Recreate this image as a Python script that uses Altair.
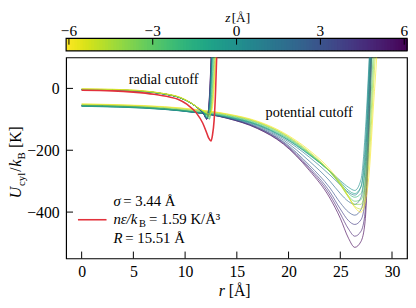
import altair as alt
import pandas as pd
import numpy as np

FONT = "Liberation Serif"

# ---------------- data ----------------
Z_VALUES = [-6, -5, -4, -3, -2, -1, 0, 1, 2, 3, 4, 5, 6]

# potential-cutoff family
R_POT = [0, 4, 8, 11, 14, 17, 19.5, 22, 24, 25, 25.8, 26.4, 27.0, 27.4, 27.8, 28.2, 28.6, 29.2]
POT_ZM6 = [-50, -53, -59, -68, -82, -106, -143, -200, -262, -305, -350, -385, -400, -370, -270, -60, 150, 700]
POT_ZM5 = [-51, -54, -60, -69, -83, -108, -146, -205, -268, -310, -352, -382, -390, -350, -225, 0, 250, 800]
POT_ZM4 = [-52, -55, -62, -71, -85, -110, -148, -208, -270, -312, -352, -375, -375, -325, -180, 60, 350, 900]
POT_ZM3 = [-54, -57, -64, -73, -87, -112, -151, -210, -270, -310, -348, -365, -360, -300, -130, 130, 450, 1000]
POT_ZM2 = [-56, -59, -66, -75, -89, -115, -154, -212, -270, -306, -340, -352, -340, -260, -60, 230, 600, 1200]
POT_ZM1 = [-57, -60, -67, -77, -91, -117, -157, -214, -269, -302, -330, -340, -318, -220, 20, 330, 700, 1300]
POT_Z0 = [-58, -61, -68, -78, -92, -118, -158, -215, -268, -298, -320, -330, -295, -150, 100, 400, 800, 1500]
POT_ZP1 = [-58, -61, -68, -78, -93, -120, -162, -222, -280, -312, -336, -345, -318, -190, 80, 400, 800, 1500]
POT_ZP2 = [-57, -60, -67, -78, -94, -123, -167, -235, -300, -340, -366, -375, -352, -250, 40, 380, 800, 1500]
POT_ZP3 = [-56, -59, -67, -78, -95, -126, -172, -248, -322, -370, -400, -410, -392, -310, 0, 350, 800, 1500]
POT_ZP4 = [-56, -59, -66, -77, -95, -127, -175, -255, -335, -390, -428, -440, -425, -360, -40, 330, 800, 1500]
POT_ZP5 = [-55, -58, -66, -77, -96, -129, -178, -260, -345, -405, -455, -478, -462, -400, -80, 320, 800, 1500]
POT_ZP6 = [-55, -58, -66, -77, -96, -130, -180, -265, -355, -420, -485, -514, -495, -430, -120, 300, 800, 1500]
POT_CURVES = [POT_ZM6, POT_ZM5, POT_ZM4, POT_ZM3, POT_ZM2, POT_ZM1, POT_Z0,
              POT_ZP1, POT_ZP2, POT_ZP3, POT_ZP4, POT_ZP5, POT_ZP6]

# radial-cutoff family
R_RAD = [0, 3, 6, 8, 9.5, 10.5, 11.2, 11.8, 12.1, 12.35, 12.6, 12.85, 13.1, 13.4]
RAD_ZM6 = [-1, -3, -8, -17, -28, -45, -61, -73, -79, -83, -70, 20, 200, 500]
RAD_ZM5 = [-2, -3, -8, -17, -29, -45, -61, -74, -81, -87, -60, 50, 260, 550]
RAD_ZM4 = [-2, -4, -9, -17, -29, -46, -62, -75, -83, -92, -45, 90, 320, 600]
RAD_ZM3 = [-3, -4, -9, -18, -30, -46, -62, -76, -86, -98, -20, 150, 380, 650]
RAD_ZM2 = [-3, -5, -10, -18, -30, -46, -62, -77, -89, -100, 10, 220, 450, 700]
RAD_ZM1 = [-4, -5, -10, -18, -30, -46, -62, -78, -92, -85, 60, 300, 550, 750]
RAD_Z0 = [-4, -5, -10, -18, -30, -46, -62, -79, -95, -65, 100, 380, 650, 850]
RAD_ZP1 = [-4, -5, -10, -18, -30, -46, -62, -80, -96, -55, 120, 400, 700, 900]
RAD_ZP2 = [-4, -5, -10, -18, -30, -46, -62, -81, -97, -48, 135, 420, 720, 900]
RAD_ZP3 = [-4, -5, -10, -18, -30, -46, -62, -82, -98, -42, 150, 440, 740, 950]
RAD_ZP4 = [-4, -5, -10, -18, -30, -46, -63, -83, -99, -36, 165, 460, 760, 950]
RAD_ZP5 = [-4, -5, -10, -18, -30, -46, -63, -83, -100, -30, 180, 480, 780, 1000]
RAD_ZP6 = [-4, -5, -10, -18, -30, -46, -63, -84, -100, -25, 190, 500, 800, 1000]
RAD_CURVES = [RAD_ZM6, RAD_ZM5, RAD_ZM4, RAD_ZM3, RAD_ZM2, RAD_ZM1, RAD_Z0,
              RAD_ZP1, RAD_ZP2, RAD_ZP3, RAD_ZP4, RAD_ZP5, RAD_ZP6]

# red reference curve
R_RED = [0, 3, 5, 7, 8.5, 9.3, 10.2, 11.1, 11.7, 12.1, 12.3, 12.5, 12.65, 12.8, 12.95, 13.05, 13.3]
U_RED = [-6, -8, -12, -19, -28, -35, -52, -80, -112, -145, -162, -170, -150, -105, -5, 100, 450]

X_TICKS = [0, 5, 10, 15, 20, 25, 30]
Y_TICKS = [-400, -200, 0]
CB_TICKS = [-6, -3, 0, 3, 6]

ANNOT_TEXT = ["radial cutoff", "potential cutoff"]
ANNOT_R = [7.92, 21.99]
ANNOT_U = [15, -92]

# ---------------- tables ----------------
rows = []
for fam, grid, curves in (("pot", R_POT, POT_CURVES), ("rad", R_RAD, RAD_CURVES)):
    for z, vals in reversed(list(zip(Z_VALUES, curves))):
        for i, (r, u) in enumerate(zip(grid, vals)):
            rows.append({"key": f"{fam}{z:+d}", "z": z, "r": r, "U": u, "i": i})
df = pd.DataFrame(rows)
red_df = pd.DataFrame({"r": R_RED, "U": U_RED, "i": range(len(R_RED))})
annot_df = pd.DataFrame({"text": ANNOT_TEXT, "r": ANNOT_R, "U": ANNOT_U})

W, H = 346, 204
x_scale = alt.Scale(domain=[-1.5, 31.45], nice=False, zero=False)
y_scale = alt.Scale(domain=[-550, 100], nice=False, zero=False)
color_scale = alt.Scale(scheme="viridis", reverse=True, domain=[-6.1, 6.1])

x_axis = alt.Axis(values=X_TICKS, ticks=False, tickSize=0, domain=False, grid=False,
                  labelFont=FONT, labelFontSize=16, labelColor="black", labelPadding=5,
                  title=None, format="d")
y_axis = alt.Axis(values=Y_TICKS, ticks=False, tickSize=0, domain=False, grid=False,
                  labelFont=FONT, labelFontSize=16, labelColor="black", labelPadding=7,
                  title=None, format="d")

X = lambda f: alt.X(f, scale=x_scale, axis=x_axis)
Y = lambda f: alt.Y(f, scale=y_scale, axis=y_axis)

lines = alt.Chart(df).mark_line(clip=True, strokeWidth=1, opacity=0.65, interpolate="monotone").encode(
    x=X("r:Q"), y=Y("U:Q"),
    color=alt.Color("z:Q", scale=color_scale, legend=None),
    detail="key:N", order="i:Q",
)
red = alt.Chart(red_df).mark_line(clip=True, strokeWidth=1.6, color="#e2323c", interpolate="monotone").encode(
    x=X("r:Q"), y=Y("U:Q"), order="i:Q"
)
xt = alt.Chart(pd.DataFrame({"t": X_TICKS})).mark_rule(color="black", strokeWidth=1).encode(
    x=X("t:Q"), y=alt.value(H), y2=alt.value(H - 7)
)
yt = alt.Chart(pd.DataFrame({"t": Y_TICKS})).mark_rule(color="black", strokeWidth=1).encode(
    y=Y("t:Q"), x=alt.value(0), x2=alt.value(7)
)
annot = alt.Chart(annot_df).mark_text(font=FONT, fontSize=14.5, color="black", baseline="alphabetic").encode(
    x=X("r:Q"), y=Y("U:Q"), text="text:N"
)

one = pd.DataFrame({"a": [0]})


def txt(s, x, y, size=16, italic=False, angle=0, align="left"):
    kw = dict(text=s, font=FONT, fontSize=size, color="black", baseline="alphabetic", align=align)
    if italic:
        kw["fontStyle"] = "italic"
    if angle:
        kw["angle"] = angle
    return alt.Chart(one).mark_text(**kw).encode(x=alt.value(x), y=alt.value(y))


YT = -45.5  # baseline of rotated y title
texts = [
    # y-axis title (rotated pieces)
    txt("U", YT, 143, 16, True, 270),
    txt("cyl", YT + 3.5, 130.5, 11, False, 270),
    txt("/", YT, 116, 16, False, 270),
    txt("k", YT, 111, 16, True, 270),
    txt("B", YT + 3.5, 103.5, 11, False, 270),
    txt("[K]", YT, 92, 16, False, 270),
    # x-axis title
    txt("r", 155, 242, 16, True),
    txt("[Å]", 165, 242, 16),
    # colorbar title
    txt("z", 161.5, -36.5, 13.5, True),
    txt("[Å]", 168, -36.5, 13.5),
    # legend
    txt("σ", 48, 151, 15, True),
    txt("= 3.44 Å", 58, 151, 15),
    txt("nε/k", 48, 169.5, 15, True),
    txt("B", 74, 172.5, 10.5),
    txt("= 1.59 K/Å³", 84, 169.5, 15),
    txt("R", 48, 188, 15, True),
    txt("= 15.51 Å", 60, 188, 15),
]
legend_line = alt.Chart(one).mark_rule(color="#e2323c", strokeWidth=1.6).encode(
    x=alt.value(12), x2=alt.value(41), y=alt.value(164.7)
)

main = alt.layer(lines, red, xt, yt, annot, legend_line, *texts)

# ---------------- colorbar ----------------
cb_scale = alt.Scale(domain=[-6.1, 6.1], nice=False, zero=False)
z0 = np.round(np.arange(-6.1, 6.1, 0.1), 3)
cells = pd.DataFrame({"z0": z0, "z1": z0 + 0.13, "zc": z0 + 0.05})
cb_rect = alt.Chart(cells).mark_rect(strokeWidth=0).encode(
    x=alt.X("z0:Q", scale=cb_scale, axis=None), x2="z1:Q",
    y=alt.value(-19.3), y2=alt.value(-6.7),
    color=alt.Color("zc:Q", scale=color_scale, legend=None),
)
cb_tick_df = pd.DataFrame({"t": CB_TICKS})
cb_ticks = alt.Chart(cb_tick_df).mark_rule(color="black", strokeWidth=1).encode(
    x=alt.X("t:Q", scale=cb_scale, axis=None), y=alt.value(-19.3), y2=alt.value(-13)
)
cb_labels = alt.Chart(cb_tick_df).mark_text(font=FONT, fontSize=15.5, color="black", baseline="alphabetic").encode(
    x=alt.X("t:Q", scale=cb_scale, axis=None), y=alt.value(-22), text=alt.Text("t:Q", format="d")
)
cb_frame = alt.Chart(one).mark_rect(fillOpacity=0, stroke="black", strokeWidth=1.2).encode(
    x=alt.value(0), x2=alt.value(W), y=alt.value(-19.3), y2=alt.value(-6.7)
)
cbar = alt.layer(cb_rect, cb_ticks, cb_labels, cb_frame)

chart = alt.layer(main, cbar).resolve_scale(x="independent").properties(
    width=W, height=H,
    autosize=alt.AutoSizeParams(type="none"),
    padding={"left": 59, "top": 48, "right": 1, "bottom": 44},
).configure_view(stroke="black", strokeWidth=1.2)

chart.save("out.html", embed_options={"renderer": "svg", "actions": False})
